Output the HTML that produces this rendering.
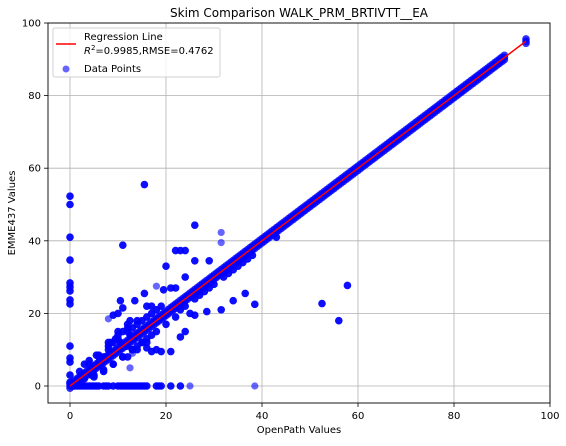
<!DOCTYPE html>
<html><head><meta charset="utf-8"><style>
body{margin:0;background:#fff;width:566px;height:441px;overflow:hidden}
svg{font-family:"DejaVu Sans","Liberation Sans",sans-serif}
</style></head><body>
<svg id="chart" width="566" height="441">
<g id="grid"></g><g id="pts"></g><g id="axes"></g>
</svg>
<script>
const xTicks=[0,20,40,60,80,100];
const yTicks=[0,20,40,60,80,100];
const diagX=[0,0.5,1,1.5,2,2.5,3,3.5,4,4.5,5,5.5,6,6.5,7,7.5,8,8.5,9,9.5,10,10.5,11,11.5,12,12.5,13,13.5,14,14.5,15,15.5,16,16.5,17,17.5,18,18.5,19,19.5,20,20.5,21,21.5,22,22.5,23,23.5,24,24.5,25,25.5,26,26.5,27,27.5,28,28.5,29,29.5,30,30.5,31,31.5,32,32.5,33,33.5,34,34.5,35,35.5,36,36.5,37,37.5,38,38.5,39,39.5,40,40.5,41,41.5,42,42.5,43,43.5,44,44.5,45,45.5,46,46.5,47,47.5,48,48.5,49,49.5,50,50.5,51,51.5,52,52.5,53,53.5,54,54.5,55,55.5,56,56.5,57,57.5,58,58.5,59,59.5,60,60.5,61,61.5,62,62.5,63,63.5,64,64.5,65,65.5,66,66.5,67,67.5,68,68.5,69,69.5,70,70.5,71,71.5,72,72.5,73,73.5,74,74.5,75,75.5,76,76.5,77,77.5,78,78.5,79,79.5,80,80.5,81,81.5,82,82.5,83,83.5,84,84.5,85,85.5,86,86.5,87,87.5,88,88.5,89,89.5,90,90.5,95];
const outX=[0,0,0,0,0,0,0,0,0,0,0,0,0,0,1,1.5,2,2.5,3,3.5,4,4.5,5,5.5,6,7,7.5,8,9,10,10.5,11,11.5,12,12.5,13,13.5,14,14.5,15,15.5,16,18,18.5,19,21,23,15.5,11,26,22,23,24,26,29,20,24,19.5,21,22,10.5,11,13.5,15.5,16,17,12.5,10,28.5,34,36.5,38.5,31.5,26,25,23,24,21,19,18,16,17,9,12.5,10.5,12,8,9,5.5,7,4,4.5,52.5,56,57.8,41,43,6,8,10,12,14,7,9,11,13,15,3,5,2,3,4,6,8,10,11,12,13,14,15,16,17,18,19,5,7,9,11,13,15,17,14,16,18,20,22,24,26,28,30,32,34,36,38,23,27,29,33,35,37,8.5,9.5,12,14,16,10,12];
const outY=[52.3,50,41,34.7,28.4,27.3,26.2,23.7,22.6,11,7.7,6.6,3,1,0,0,0,0,0,0,0,0,0,0,0,0,0,0,0,0,0,0,0,0,0,0,0,0,0,0,0,0,0,0,0,0,0,55.5,38.8,44.3,37.3,37.3,37.3,34.5,34.5,33,30,26.5,27,27,23.5,21.5,23.5,25.5,22,22,18,20,20.5,23.5,25.5,22.5,21,19.5,20,13.5,15,9.5,9.5,10,10.5,9.5,19.5,14,12,11,11,12,8.5,8,6,3,22.7,18,27.7,41,41,8.5,12,14,16,18,4,6,8,10,12,2,3,4,6,7,8,10,13,15,15,16,17,18,19,20,21,22,2.5,4.5,6,8,10,12,14,11,13,15,17,19,22,24,26,28,30,32,34,36,21,25,27,31,33,35,12,13,8,10,12,15,17];
const faintX=[25,38.5,31.5,31.5,18,8,13,12.5];
const faintY=[0,0,42.3,39.5,27.5,18.5,9,5];
const x0=70,xs=4.8,y0=386,ys=3.63;
const X=v=>x0+v*xs, Y=v=>y0-v*ys;
const NS="http://www.w3.org/2000/svg";
function mk(t,a,p){const e=document.createElementNS(NS,t);for(const k in a)e.setAttribute(k,a[k]);p.appendChild(e);return e;}
const g=document.getElementById('grid'),P=document.getElementById('pts'),A=document.getElementById('axes');
const L=48,R=550,T=23,B=403;
xTicks.forEach(t=>{
 const l=mk('line',{x1:X(t),x2:X(t),y1:T,y2:B,stroke:'#b0b0b0','stroke-width':0.8},g);
 
 
 mk('line',{x1:X(t),x2:X(t),y1:B,y2:B+4,stroke:'#000','stroke-width':0.8},A);
 const tx=mk('text',{x:X(t),y:B+16,'text-anchor':'middle','font-size':10,fill:'#000'},A);tx.textContent=t;
 
 
});
yTicks.forEach(t=>{
 const l=mk('line',{x1:L,x2:R,y1:Y(t),y2:Y(t),stroke:'#b0b0b0','stroke-width':0.8},g);
 
 
 mk('line',{x1:L-4,x2:L,y1:Y(t),y2:Y(t),stroke:'#000','stroke-width':0.8},A);
 const tx=mk('text',{x:L-7,y:Y(t)+3.5,'text-anchor':'end','font-size':10,fill:'#000'},A);tx.textContent=t;
 
 
});
faintX.forEach((v,i)=>{
 const c=mk('circle',{cx:X(v),cy:Y(faintY[i]),r:3.6,fill:'#0000ff','fill-opacity':0.6},P);
 
 
});
outX.forEach((v,i)=>{
 const c=mk('circle',{cx:X(v),cy:Y(outY[i]),r:3.8,fill:'#0000ff','fill-opacity':0.95},P);
 
 
});
diagX.forEach(v=>{
 [-0.6,0,0.6].forEach(d=>{
 const c=mk('circle',{cx:X(v),cy:Y(v+d),r:3.8,fill:'#0000ff','fill-opacity':0.8},P);
 
 
 });
});
const rl=mk('line',{x1:X(0),y1:Y(0),x2:X(95),y2:Y(95),stroke:'#ff0000','stroke-width':1.5},P);


const fr=mk('rect',{x:L,y:T,width:R-L,height:B-T,fill:'none',stroke:'#000','stroke-width':0.9},A);


</script>
<svg style="position:absolute;left:0;top:0" width="566" height="441">
<text x="299" y="17" text-anchor="middle" font-size="12">Skim Comparison WALK_PRM_BRTIVTT__EA</text>
<text x="299" y="433" text-anchor="middle" font-size="10">OpenPath Values</text>
<text x="15" y="213" text-anchor="middle" font-size="10" transform="rotate(-90 15 213)">EMME437 Values</text>
<g>
<rect x="53" y="28" width="167" height="49" rx="2" fill="#fff" fill-opacity="0.8" stroke="#d0d0d0"/>
<line x1="56" y1="44" x2="76" y2="44" stroke="#ff0000" stroke-width="1.5"/>
<text x="84" y="40" font-size="10">Regression Line</text>
<text x="84" y="54" font-size="10"><tspan font-style="italic">R</tspan><tspan font-size="7" dy="-4">2</tspan><tspan dy="4">=0.9985,RMSE=0.4762</tspan></text>
<circle cx="66" cy="69" r="3.5" fill="#0000ff" fill-opacity="0.6"/>
<text x="84" y="72" font-size="10">Data Points</text>
</g>
</svg>
</body></html>
